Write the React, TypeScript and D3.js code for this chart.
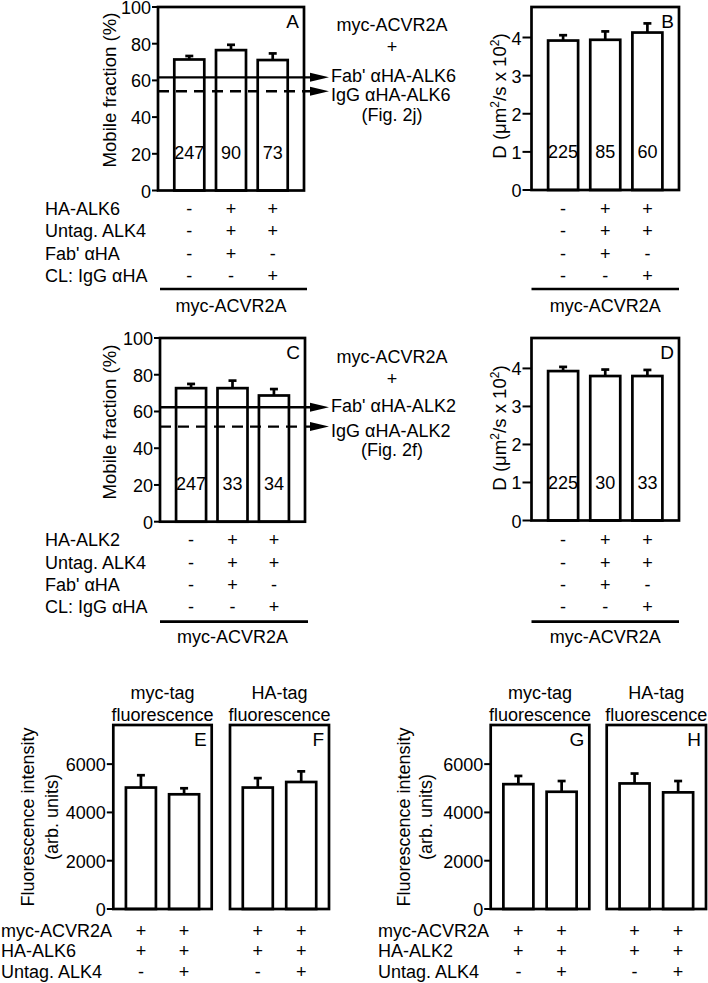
import React from "react";
import * as d3 from "d3";

// ---- data ----
const rowsAB = ["HA-ALK6", "Untag. ALK4", "Fab' \u03b1HA", "CL: IgG \u03b1HA"];
const rowsCD = ["HA-ALK2", "Untag. ALK4", "Fab' \u03b1HA", "CL: IgG \u03b1HA"];
const signsTop = [
  ["-", "+", "+"],
  ["-", "+", "+"],
  ["-", "+", "-"],
  ["-", "-", "+"],
];

const mobileA = [71.4, 76.5, 71.1];
const mobileSemA = [1.9, 2.9, 3.6];
const countsA = [247, 90, 73];
const fabA = 61.7;
const iggA = 54.1;

const diffB = [3.92, 3.94, 4.13];
const diffSemB = [0.14, 0.22, 0.24];
const countsB = [225, 85, 60];

const mobileC = [72.7, 72.7, 68.7];
const mobileSemC = [2.3, 4.1, 3.5];
const countsC = [247, 33, 34];
const fabC = 62.3;
const iggC = 51.8;

const diffD = [3.93, 3.8, 3.8];
const diffSemD = [0.11, 0.17, 0.16];
const countsD = [225, 30, 33];

const mobileTicks = [0, 20, 40, 60, 80, 100];
const diffTicks = [0, 1, 2, 3, 4];
const fluoTicks = [0, 2000, 4000, 6000];

const fluoE = [5030, 4750];
const fluoSemE = [510, 250];
const fluoF = [5030, 5260];
const fluoSemF = [390, 440];
const fluoG = [5170, 4855];
const fluoSemG = [340, 445];
const fluoH = [5200, 4830];
const fluoSemH = [410, 470];

const rowsEF = ["myc-ACVR2A", "HA-ALK6", "Untag. ALK4"];
const rowsGH = ["myc-ACVR2A", "HA-ALK2", "Untag. ALK4"];
const signsBottom = [
  ["+", "+"],
  ["+", "+"],
  ["-", "+"],
];

const FONT = "'Liberation Sans', Arial, Helvetica, sans-serif";
const FS = 18;
const TITLE_FS = 18.6;
const SW = 2.7;

type PanelProps = {
  x0: number;
  x1: number;
  y0: number;
  y1: number;
  max: number;
  values: number[];
  sems: number[];
  ticks?: number[];
  tickLen?: number;
  counts?: number[];
  letter: string;
  pad: number;
  children?: (x: d3.ScalePoint<number>, y: d3.ScaleLinear<number, number>) => React.ReactNode;
};

const BarPanel = ({ x0, x1, y0, y1, max, values, sems, ticks, tickLen = 6, counts, letter, pad, children }: PanelProps) => {
  const y = d3.scaleLinear().domain([0, max]).range([y1, y0]);
  const x = d3
    .scalePoint<number>()
    .domain(values.map((_, i) => i))
    .range([x0, x1])
    .padding(pad);
  const bw = 30;
  return (
    <g>
      {values.map((v, i) => (
        <g key={i}>
          <line x1={x(i)} x2={x(i)} y1={y(v)} y2={y(v + sems[i])} stroke="#000" strokeWidth={SW} />
          <line x1={x(i)! - 4} x2={x(i)! + 4} y1={y(v + sems[i])} y2={y(v + sems[i])} stroke="#000" strokeWidth={SW} />
          <rect x={x(i)! - bw / 2} y={y(v)} width={bw} height={y1 - y(v)} fill="#fff" stroke="#000" strokeWidth={SW} />
          {counts && (
            <text x={x(i)} y={y1 - 32} textAnchor="middle" fontSize={FS}>
              {counts[i]}
            </text>
          )}
        </g>
      ))}
      {children && children(x, y)}
      <rect x={x0} y={y0} width={x1 - x0} height={y1 - y0} fill="none" stroke="#000" strokeWidth={SW} />
      {ticks &&
        ticks.map((t) => (
          <g key={t}>
            <line x1={x0 - tickLen} x2={x0} y1={y(t)} y2={y(t)} stroke="#000" strokeWidth={2} />
            <text x={x0 - tickLen - 1} y={y(t) + 7} textAnchor="end" fontSize={FS}>
              {t}
            </text>
          </g>
        ))}
      <text x={x1 - 5} y={y0 + 21} textAnchor="end" fontSize={FS + 1}>
        {letter}
      </text>
    </g>
  );
};

const SignTable = ({ xs, yStart, gap, signs }: { xs: number[]; yStart: number; gap: number; signs: string[][] }) => (
  <g>
    {signs.map((row, r) =>
      row.map((s, c) => (
        <text key={r + "-" + c} x={xs[c]} y={yStart + r * gap + 6.5} textAnchor="middle" fontSize={FS}>
          {s}
        </text>
      ))
    )}
  </g>
);

const RowLabels = ({ x, yStart, gap, rows }: { x: number; yStart: number; gap: number; rows: string[] }) => (
  <g>
    {rows.map((r, i) => (
      <text key={r} x={x} y={yStart + i * gap + 6.5} fontSize={FS}>
        {r}
      </text>
    ))}
  </g>
);

const pointsFor = (n: number, x0: number, x1: number, pad: number) => {
  const s = d3
    .scalePoint<number>()
    .domain(d3.range(n))
    .range([x0, x1])
    .padding(pad);
  return d3.range(n).map((i) => s(i)!);
};

const DLabel = ({ x, y }: { x: number; y: number }) => (
  <text transform={`translate(${x},${y}) rotate(-90)`} textAnchor="middle" fontSize={TITLE_FS}>
    {"D (\u03bcm"}
    <tspan dy={-7} fontSize={12}>
      2
    </tspan>
    <tspan dy={7}>/s x 10</tspan>
    <tspan dy={-7} fontSize={12}>
      2
    </tspan>
    <tspan dy={7}>)</tspan>
  </text>
);

const RefLines = (x0: number, fab: number, igg: number, y: d3.ScaleLinear<number, number>) => {
  const tip = 329;
  const base = 310;
  return (
    <g>
      <line x1={x0} x2={base + 2} y1={y(fab)} y2={y(fab)} stroke="#000" strokeWidth={2.3} />
      <polygon points={`${base},${y(fab) - 4.5} ${tip},${y(fab)} ${base},${y(fab) + 4.5}`} fill="#000" />
      <line x1={x0} x2={base + 2} y1={y(igg)} y2={y(igg)} stroke="#000" strokeWidth={2.3} strokeDasharray="11 7" />
      <polygon points={`${base},${y(igg) - 4.5} ${tip},${y(igg)} ${base},${y(igg) + 4.5}`} fill="#000" />
    </g>
  );
};

const App = () => {
  const A = { x0: 158, x1: 304, y0: 7, y1: 190.5 };
  const B = { x0: 531.5, x1: 679, y0: 7, y1: 190 };
  const C = { x0: 160, x1: 305, y0: 338, y1: 521.7 };
  const D = { x0: 531.5, x1: 679, y0: 338, y1: 520.5 };
  const bot = { y0: 725, y1: 909, max: 7620 };
  const E = { x0: 113.3, x1: 211.7 };
  const F = { x0: 230, x1: 329 };
  const G = { x0: 490.7, x1: 589.3 };
  const H = { x0: 606.7, x1: 706 };
  const padTop = 0.75;
  const padBot = 0.64;

  const fabYA = d3.scaleLinear().domain([0, 100]).range([A.y1, A.y0]);
  const fabYC = d3.scaleLinear().domain([0, 100]).range([C.y1, C.y0]);

  return (
    <svg
      width={708}
      height={983}
      style={{ position: "absolute", left: 0, top: 0, background: "#fff" }}
      fontFamily={FONT}
    >
      {/* ---------- row 1 ---------- */}
      <BarPanel {...A} max={100} values={mobileA} sems={mobileSemA} ticks={mobileTicks} counts={countsA} letter="A" pad={padTop}>
        {(x, y) => RefLines(A.x0, fabA, iggA, y)}
      </BarPanel>
      <text transform={`translate(116,90) rotate(-90)`} textAnchor="middle" fontSize={TITLE_FS}>
        Mobile fraction (%)
      </text>
      <g fontSize={FS}>
        <text x={392} y={31} textAnchor="middle">myc-ACVR2A</text>
        <text x={392} y={53} textAnchor="middle">+</text>
        <text x={331} y={fabYA(fabA) + 5}>Fab' {"\u03b1"}HA-ALK6</text>
        <text x={331} y={fabYA(iggA) + 10}>IgG {"\u03b1"}HA-ALK6</text>
        <text x={392} y={121} textAnchor="middle">(Fig. 2j)</text>
      </g>
      <BarPanel {...B} max={4.8} values={diffB} sems={diffSemB} ticks={diffTicks} tickLen={9} counts={countsB} letter="B" pad={padTop} />
      <DLabel x={506} y={96} />

      <RowLabels x={45} yStart={A.y1 + 18} gap={22.3} rows={rowsAB} />
      <SignTable xs={pointsFor(3, A.x0, A.x1, padTop)} yStart={A.y1 + 18} gap={22.3} signs={signsTop} />
      <SignTable xs={pointsFor(3, B.x0, B.x1, padTop)} yStart={A.y1 + 18} gap={22.3} signs={signsTop} />
      <line x1={A.x0 + 2} x2={A.x1 + 3} y1={A.y1 + 98.5} y2={A.y1 + 98.5} stroke="#000" strokeWidth={SW} />
      <text x={(A.x0 + A.x1) / 2} y={A.y1 + 121} textAnchor="middle" fontSize={FS}>myc-ACVR2A</text>
      <line x1={B.x0} x2={B.x1} y1={A.y1 + 98.5} y2={A.y1 + 98.5} stroke="#000" strokeWidth={SW} />
      <text x={(B.x0 + B.x1) / 2} y={A.y1 + 121} textAnchor="middle" fontSize={FS}>myc-ACVR2A</text>

      {/* ---------- row 2 ---------- */}
      <BarPanel {...C} max={100} values={mobileC} sems={mobileSemC} ticks={mobileTicks} counts={countsC} letter="C" pad={padTop}>
        {(x, y) => RefLines(C.x0, fabC, iggC, y)}
      </BarPanel>
      <text transform={`translate(116,422) rotate(-90)`} textAnchor="middle" fontSize={TITLE_FS}>
        Mobile fraction (%)
      </text>
      <g fontSize={FS}>
        <text x={392} y={363} textAnchor="middle">myc-ACVR2A</text>
        <text x={392} y={385} textAnchor="middle">+</text>
        <text x={331} y={fabYC(fabC) + 5}>Fab' {"\u03b1"}HA-ALK2</text>
        <text x={331} y={fabYC(iggC) + 10}>IgG {"\u03b1"}HA-ALK2</text>
        <text x={392} y={456} textAnchor="middle">(Fig. 2f)</text>
      </g>
      <BarPanel {...D} max={4.8} values={diffD} sems={diffSemD} ticks={diffTicks} tickLen={9} counts={countsD} letter="D" pad={padTop} />
      <DLabel x={506} y={428} />

      <RowLabels x={45} yStart={C.y1 + 18} gap={22.3} rows={rowsCD} />
      <SignTable xs={pointsFor(3, C.x0, C.x1, padTop)} yStart={C.y1 + 18} gap={22.3} signs={signsTop} />
      <SignTable xs={pointsFor(3, D.x0, D.x1, padTop)} yStart={C.y1 + 18} gap={22.3} signs={signsTop} />
      <line x1={C.x0} x2={C.x1 + 3} y1={C.y1 + 100} y2={C.y1 + 100} stroke="#000" strokeWidth={SW} />
      <text x={(C.x0 + C.x1) / 2} y={C.y1 + 121.5} textAnchor="middle" fontSize={FS}>myc-ACVR2A</text>
      <line x1={D.x0} x2={D.x1} y1={C.y1 + 100} y2={C.y1 + 100} stroke="#000" strokeWidth={SW} />
      <text x={(D.x0 + D.x1) / 2} y={C.y1 + 121.5} textAnchor="middle" fontSize={FS}>myc-ACVR2A</text>

      {/* ---------- row 3 ---------- */}
      {[
        { p: E, v: fluoE, s: fluoSemE, l: "E", t: "myc-tag", axis: true },
        { p: F, v: fluoF, s: fluoSemF, l: "F", t: "HA-tag", axis: false },
        { p: G, v: fluoG, s: fluoSemG, l: "G", t: "myc-tag", axis: true },
        { p: H, v: fluoH, s: fluoSemH, l: "H", t: "HA-tag", axis: false },
      ].map((d) => (
        <g key={d.l}>
          <BarPanel
            x0={d.p.x0}
            x1={d.p.x1}
            y0={bot.y0}
            y1={bot.y1}
            max={bot.max}
            values={d.v}
            sems={d.s}
            ticks={d.axis ? fluoTicks : undefined}
            tickLen={6.5}
            letter={d.l}
            pad={padBot}
          />
          <text x={(d.p.x0 + d.p.x1) / 2} y={bot.y0 - 26} textAnchor="middle" fontSize={FS}>{d.t}</text>
          <text x={(d.p.x0 + d.p.x1) / 2} y={bot.y0 - 4} textAnchor="middle" fontSize={FS}>fluorescence</text>
          <SignTable xs={pointsFor(2, d.p.x0, d.p.x1, padBot)} yStart={bot.y1 + 21} gap={20.8} signs={signsBottom} />
        </g>
      ))}
      <text transform={`translate(33.5,817) rotate(-90)`} textAnchor="middle" fontSize={FS}>Fluorescence intensity</text>
      <text transform={`translate(57.5,817) rotate(-90)`} textAnchor="middle" fontSize={FS}>(arb. units)</text>
      <text transform={`translate(409.5,817) rotate(-90)`} textAnchor="middle" fontSize={FS}>Fluorescence intensity</text>
      <text transform={`translate(432,817) rotate(-90)`} textAnchor="middle" fontSize={FS}>(arb. units)</text>
      <RowLabels x={1} yStart={bot.y1 + 21} gap={20.8} rows={rowsEF} />
      <RowLabels x={378} yStart={bot.y1 + 21} gap={20.8} rows={rowsGH} />
    </svg>
  );
};

export default App;
